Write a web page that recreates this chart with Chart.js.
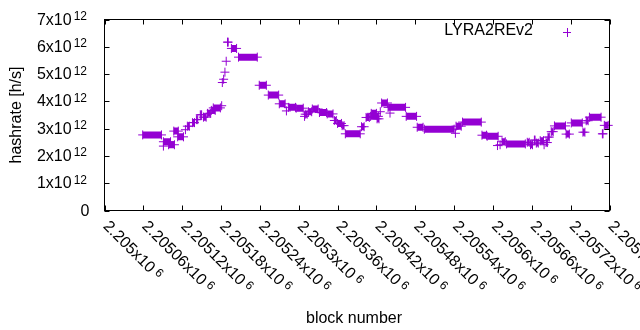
<!DOCTYPE html>
<html><head><meta charset="utf-8">
<script src="https://cdn.jsdelivr.net/npm/chart.js@4.4.1/dist/chart.umd.min.js"></script>
<style>html,body{margin:0;padding:0;background:#fff;}#wrap{width:640px;height:330px;}</style>
</head><body><div id="wrap"><canvas id="c" width="640" height="330"></canvas></div>
<script>
const seriesName = 'LYRA2REv2';
// runs of consecutive blocks sharing (almost) the same hashrate
const runStart = [2205059,2205091,2205091,2205099,2205107,2205113,2205125,2205128,2205136,2205142,2205148,2205153,2205159,2205165,2205168,2205181,2205182,2205184,2205186,2205188,2205190,2205196,2205207,2205239,2205253,2205270,2205281,2205284,2205296,2205309,2205310,2205315,2205321,2205332,2205344,2205355,2205360,2205367,2205372,2205397,2205404,2205411,2205412,2205421,2205426,2205428,2205438,2205441,2205466,2205483,2205494,2205542,2205543,2205553,2205583,2205591,2205607,2205611,2205614,2205621,2205653,2205658,2205664,2205667,2205673,2205679,2205682,2205685,2205690,2205695,2205713,2205721,2205739,2205744,2205749,2205769,2205772];
const runEnd   = [2205088,2205102,2205091,2205108,2205114,2205122,2205125,2205131,2205139,2205144,2205150,2205157,2205164,2205171,2205179,2205181,2205182,2205184,2205186,2205188,2205191,2205204,2205236,2205250,2205269,2205279,2205281,2205295,2205307,2205309,2205313,2205320,2205330,2205343,2205353,2205358,2205366,2205370,2205395,2205401,2205409,2205423,2205420,2205424,2205426,2205437,2205465,2205441,2205482,2205492,2205540,2205542,2205551,2205582,2205590,2205608,2205607,2205611,2205619,2205650,2205656,2205661,2205665,2205670,2205678,2205679,2205684,2205687,2205693,2205712,2205718,2205738,2205742,2205747,2205767,2205770,2205778];
const runHashrate = [2.77,2.52,2.36,2.41,2.91,2.70,2.96,3.09,3.22,3.33,3.51,3.42,3.56,3.67,3.76,3.84,4.69,4.81,5.07,5.47,6.17,5.94,5.62,4.59,4.23,3.91,3.65,3.78,3.75,3.45,3.53,3.62,3.72,3.59,3.54,3.30,3.19,3.11,2.81,3.07,3.41,3.45,3.56,3.36,3.62,3.94,3.78,3.57,3.45,3.05,2.98,2.83,3.09,3.24,2.76,2.72,2.38,2.41,2.52,2.44,2.50,2.41,2.58,2.47,2.56,2.41,2.49,2.69,2.89,3.10,2.80,3.21,2.87,3.29,3.42,2.81,3.12]; // x10^12 h/s
const xTickValues = [2205000,2205060,2205120,2205180,2205240,2205300,2205360,2205420,2205480,2205540,2205600,2205660,2205720,2205780];
const xTickLabels = ['2.205','2.20506','2.20512','2.20518','2.20524','2.2053','2.20536','2.20542','2.20548','2.20554','2.2056','2.20566','2.20572','2.20578'];
const xTickExponent = '6';
const yTickValues = [0,1e12,2e12,3e12,4e12,5e12,6e12,7e12];
const yTickLabels = ['0','1x10','2x10','3x10','4x10','5x10','6x10','7x10'];
const yTickExponent = '12';
const xTitle = 'block number';
const yTitle = 'hashrate [h/s]';

const COLOR = '#9400D3';
const FONT = '"Liberation Sans", Arial, sans-serif';
const FS = 16, SFS = 12;

const pts = [];
for (let i = 0; i < runStart.length; i++) {
  pts.push({x: runStart[i], y: runHashrate[i] * 1e12});
  if (runEnd[i] !== runStart[i]) pts.push({x: runEnd[i], y: runHashrate[i] * 1e12});
  pts.push({x: runEnd[i] + 0.01, y: null});
}

const gnuplotFrame = {
  id: 'gnuplotFrame',
  afterDraw(chart) {
    const ctx = chart.ctx, a = chart.chartArea;
    const xs = chart.scales.x, ys = chart.scales.y;
    ctx.save();
    ctx.strokeStyle = '#000'; ctx.lineWidth = 1;
    ctx.strokeRect(a.left, a.top, a.right - a.left, a.bottom - a.top);
    const T = 5;
    ctx.beginPath();
    yTickValues.forEach(v => {
      const y = Math.round(ys.getPixelForValue(v)) + 0.5;
      ctx.moveTo(a.left, y); ctx.lineTo(a.left + T, y);
      ctx.moveTo(a.right, y); ctx.lineTo(a.right - T, y);
    });
    xTickValues.forEach(v => {
      const x = Math.round(xs.getPixelForValue(v)) + 0.5;
      ctx.moveTo(x, a.bottom); ctx.lineTo(x, a.bottom - T);
      ctx.moveTo(x, a.top); ctx.lineTo(x, a.top + T);
    });
    ctx.stroke();
    ctx.fillStyle = '#000';
    // y labels
    yTickValues.forEach((v, i) => {
      const y = ys.getPixelForValue(v);
      ctx.textBaseline = 'alphabetic';
      if (i === 0) {
        ctx.font = FS + 'px ' + FONT; ctx.textAlign = 'right';
        ctx.fillText(yTickLabels[i], 89.5, y + 5.5);
        return;
      }
      ctx.font = SFS + 'px ' + FONT;
      const w2 = ctx.measureText(yTickExponent).width;
      ctx.textAlign = 'left';
      const supX = 87 - w2;
      ctx.fillText(yTickExponent, supX, y + 0.5);
      ctx.font = FS + 'px ' + FONT; ctx.textAlign = 'right';
      ctx.fillText(yTickLabels[i], supX - 2, y + 5);
    });
    // x labels, rotated by -45 (clockwise)
    xTickValues.forEach((v, i) => {
      const x = xs.getPixelForValue(v);
      ctx.save();
      ctx.translate(x - 2, 227);
      ctx.rotate(Math.PI / 4);
      ctx.textAlign = 'left'; ctx.textBaseline = 'alphabetic';
      ctx.font = FS + 'px ' + FONT;
      const main = xTickLabels[i] + 'x10';
      ctx.fillText(main, 0, 0);
      const w = ctx.measureText(main + ' ').width;
      ctx.font = SFS + 'px ' + FONT;
      ctx.fillText(xTickExponent, w - 1, -4);
      ctx.restore();
    });
    // titles
    ctx.font = FS + 'px ' + FONT;
    ctx.textAlign = 'center'; ctx.textBaseline = 'middle';
    ctx.fillText(xTitle, 354, 319);
    ctx.save();
    ctx.translate(17, 115);
    ctx.rotate(-Math.PI / 2);
    ctx.fillText(yTitle, 0, 0);
    ctx.restore();
    // legend
    ctx.textAlign = 'right';
    ctx.fillText(seriesName, 533, 31);
    ctx.strokeStyle = COLOR; ctx.lineWidth = 1;
    ctx.beginPath();
    ctx.moveTo(563, 32.5); ctx.lineTo(571, 32.5);
    ctx.moveTo(567.5, 28); ctx.lineTo(567.5, 37);
    ctx.stroke();
    ctx.restore();
  }
};

new Chart(document.getElementById('c'), {
  type: 'line',
  data: { datasets: [{
    label: seriesName,
    data: pts,
    borderColor: COLOR,
    backgroundColor: COLOR,
    borderWidth: 7,
    borderCapStyle: 'butt',
    spanGaps: false,
    pointStyle: 'cross',
    pointRadius: 4.5,
    pointBorderWidth: 1,
    pointBorderColor: COLOR,
    pointHoverRadius: 4.5,
    clip: false,
    tension: 0
  }]},
  options: {
    responsive: false,
    animation: false,
    events: [],
    layout: { padding: { left: 104.5, right: 30.5, top: 19.5, bottom: 119.5 } },
    plugins: { legend: { display: false }, tooltip: { enabled: false } },
    scales: {
      x: { type: 'linear', min: 2205000, max: 2205780, display: false },
      y: { type: 'linear', min: 0, max: 7e12, display: false }
    }
  },
  plugins: [gnuplotFrame]
});
</script>
</body></html>
